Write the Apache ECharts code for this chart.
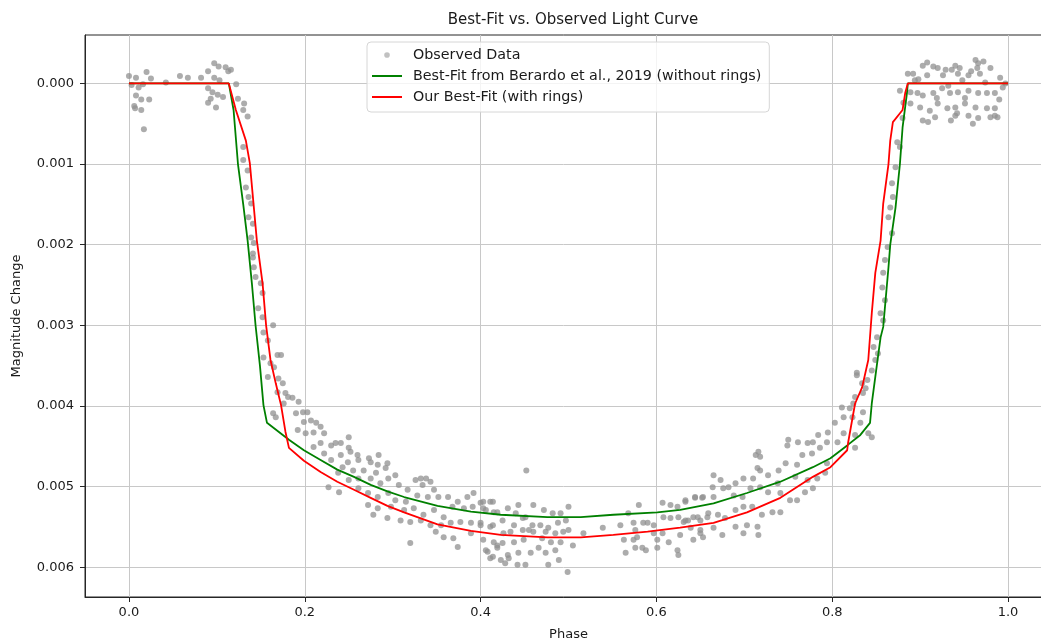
<!DOCTYPE html>
<html>
<head>
<meta charset="utf-8">
<title>Best-Fit vs. Observed Light Curve</title>
<script src="https://cdn.jsdelivr.net/npm/echarts@6/dist/echarts.min.js"></script>
<style>
  html, body { margin: 0; padding: 0; background: #fff; }
  #chart { width: 1041px; height: 639px; }
</style>
</head>
<body>
<div id="chart"></div>
<script>
// Light curve: observed points [phase, magnitude change]
const obsPre = [
  [0.000,-0.00009],[0.008,-0.00007],[0.020,-0.00014],[0.011,0.00005],[0.008,0.00015],[0.014,0.00020],
  [0.023,0.00020],[0.006,0.00028],[0.007,0.00031],[0.014,0.00033],[0.017,0.00057],[0.003,0.00002],
  [0.016,0.00001],[0.025,-0.00006],[0.042,-0.00001],[0.058,-0.00009],[0.067,-0.00007],[0.082,-0.00007],
  [0.090,-0.00015],[0.097,-0.00025],[0.102,-0.00021],[0.110,-0.00020],[0.116,-0.00017],[0.113,-0.00015],
  [0.097,-0.00007],[0.103,-0.00004],[0.090,0.00006],[0.095,0.00011],[0.101,0.00014],[0.093,0.00019],
  [0.090,0.00024],[0.099,0.00030],[0.107,0.00017],[0.122,0.00001],[0.124,0.00019],[0.131,0.00025],
  [0.130,0.00033],[0.135,0.00041]
];
const obsIngress = [
  [0.130,0.00079],[0.130,0.00095],[0.135,0.00108],[0.133,0.00129],[0.136,0.00141],[0.139,0.00149],
  [0.136,0.00166],[0.141,0.00174],[0.139,0.00191],[0.142,0.00198],[0.141,0.00211],[0.141,0.00216],
  [0.142,0.00228],[0.144,0.00240],[0.150,0.00248],[0.152,0.00260],[0.147,0.00279],[0.152,0.00290],
  [0.164,0.00300],[0.153,0.00309],[0.158,0.00319],[0.169,0.00337],[0.173,0.00337],[0.153,0.00340],
  [0.161,0.00347],[0.165,0.00352],[0.158,0.00364],[0.170,0.00366],[0.175,0.00372],[0.169,0.00383],
  [0.178,0.00384],[0.176,0.00397],[0.164,0.00409],[0.167,0.00414]
];
const obsBottomLeft = [
  [0.181,0.00389],[0.186,0.00390],[0.193,0.00395],[0.198,0.00408],[0.203,0.00408],[0.190,0.00409],
  [0.199,0.00420],[0.207,0.00418],[0.213,0.00421],[0.192,0.00430],[0.201,0.00434],[0.210,0.00433],
  [0.218,0.00426],[0.222,0.00434],[0.250,0.00439],[0.230,0.00449],[0.235,0.00446],[0.241,0.00446],
  [0.218,0.00446],[0.210,0.00451],[0.250,0.00452],[0.252,0.00457],[0.222,0.00459],[0.241,0.00461],
  [0.260,0.00461],[0.230,0.00467],[0.249,0.00470],[0.261,0.00467],[0.273,0.00465],[0.275,0.00470],
  [0.284,0.00461],[0.294,0.00471],[0.283,0.00473],[0.243,0.00476],[0.255,0.00480],[0.267,0.00480],
  [0.281,0.00483],[0.292,0.00477],[0.303,0.00486],[0.238,0.00483],[0.250,0.00492],[0.261,0.00490],
  [0.275,0.00490],[0.286,0.00496],[0.295,0.00490],[0.307,0.00498],[0.317,0.00504],[0.326,0.00492],
  [0.332,0.00490],[0.338,0.00490],[0.343,0.00494],[0.334,0.00498],[0.347,0.00504],[0.227,0.00501],
  [0.239,0.00507],[0.261,0.00502],[0.272,0.00508],[0.283,0.00513],[0.295,0.00508],[0.303,0.00517],
  [0.315,0.00519],[0.328,0.00511],[0.340,0.00513],[0.352,0.00513],[0.363,0.00513],[0.374,0.00519],
  [0.385,0.00513],[0.392,0.00508],[0.400,0.00520],[0.411,0.00519],[0.272,0.00523],[0.283,0.00527],
  [0.298,0.00525],[0.313,0.00529],[0.324,0.00527],[0.335,0.00535],[0.347,0.00529],[0.358,0.00538],
  [0.368,0.00525],[0.381,0.00527],[0.391,0.00525],[0.403,0.00527],[0.415,0.00532],[0.278,0.00535],
  [0.294,0.00539],[0.309,0.00542],[0.320,0.00544],[0.332,0.00542],[0.343,0.00548],[0.355,0.00548],
  [0.366,0.00545],[0.377,0.00544],[0.389,0.00545],[0.400,0.00548],[0.411,0.00550],[0.349,0.00556],
  [0.358,0.00563],[0.369,0.00564],[0.374,0.00575],[0.320,0.00570],[0.389,0.00558],[0.403,0.00566],
  [0.408,0.00581],[0.414,0.00587],[0.419,0.00573]
];
const obsBottomMid = [
  [0.403,0.00519],[0.414,0.00519],[0.406,0.00529],[0.419,0.00532],[0.431,0.00527],[0.443,0.00523],
  [0.460,0.00523],[0.472,0.00529],[0.482,0.00533],[0.491,0.00533],[0.500,0.00525],[0.440,0.00533],
  [0.451,0.00538],[0.400,0.00545],[0.414,0.00548],[0.425,0.00542],[0.438,0.00548],[0.448,0.00539],
  [0.459,0.00548],[0.468,0.00548],[0.477,0.00551],[0.488,0.00545],[0.497,0.00542],[0.426,0.00558],
  [0.434,0.00556],[0.448,0.00554],[0.455,0.00554],[0.460,0.00556],[0.474,0.00556],[0.485,0.00558],
  [0.494,0.00556],[0.500,0.00554],[0.415,0.00569],[0.425,0.00570],[0.438,0.00569],[0.449,0.00566],
  [0.470,0.00564],[0.480,0.00569],[0.491,0.00569],[0.505,0.00573],[0.406,0.00579],[0.419,0.00576],
  [0.431,0.00585],[0.443,0.00582],[0.457,0.00582],[0.466,0.00576],[0.474,0.00582],[0.485,0.00579],
  [0.411,0.00589],[0.423,0.00591],[0.432,0.00589],[0.442,0.00597],[0.451,0.00597],[0.477,0.00597],
  [0.489,0.00591],[0.428,0.00595],[0.499,0.00606],[0.452,0.00480],[0.517,0.00558],[0.539,0.00551],
  [0.559,0.00548],[0.568,0.00533],[0.580,0.00523],[0.574,0.00545],[0.576,0.00554],[0.578,0.00563],
  [0.563,0.00566],[0.574,0.00566],[0.576,0.00576],[0.584,0.00576],[0.588,0.00579],[0.565,0.00582],
  [0.585,0.00545],[0.590,0.00545],[0.597,0.00548],[0.597,0.00558],[0.601,0.00566],[0.601,0.00576],
  [0.607,0.00520],[0.616,0.00523],[0.608,0.00538],[0.616,0.00539],[0.624,0.00525],[0.633,0.00519],
  [0.644,0.00514],[0.652,0.00514],[0.625,0.00538],[0.631,0.00544],[0.636,0.00542],[0.642,0.00538],
  [0.650,0.00542],[0.659,0.00533],[0.607,0.00558],[0.614,0.00569],[0.624,0.00579],[0.625,0.00585],
  [0.627,0.00560],[0.642,0.00566],[0.650,0.00558],[0.653,0.00563]
];
const obsBottomRight = [
  [0.633,0.00517],[0.644,0.00513],[0.653,0.00513],[0.665,0.00513],[0.665,0.00486],[0.673,0.00492],
  [0.664,0.00501],[0.676,0.00502],[0.682,0.00501],[0.690,0.00496],[0.699,0.00490],[0.710,0.00490],
  [0.688,0.00511],[0.698,0.00513],[0.707,0.00502],[0.718,0.00501],[0.727,0.00507],[0.738,0.00496],
  [0.716,0.00457],[0.718,0.00463],[0.713,0.00461],[0.715,0.00477],[0.718,0.00480],[0.727,0.00486],
  [0.739,0.00480],[0.747,0.00471],[0.760,0.00473],[0.750,0.00442],[0.761,0.00445],[0.749,0.00449],
  [0.772,0.00446],[0.778,0.00445],[0.784,0.00436],[0.795,0.00433],[0.803,0.00421],[0.794,0.00445],
  [0.806,0.00445],[0.766,0.00461],[0.777,0.00459],[0.786,0.00452],[0.758,0.00488],[0.772,0.00492],
  [0.783,0.00490],[0.792,0.00483],[0.741,0.00508],[0.752,0.00517],[0.760,0.00517],[0.769,0.00507],
  [0.778,0.00502],[0.794,0.00471],[0.811,0.00402],[0.820,0.00403],[0.813,0.00414],[0.823,0.00414],
  [0.832,0.00421],[0.826,0.00436],[0.826,0.00452],[0.841,0.00434],[0.845,0.00439],[0.835,0.00408],
  [0.828,0.00362],[0.838,0.00378],[0.824,0.00397],[0.813,0.00434],[0.647,0.00538],[0.658,0.00538],
  [0.670,0.00535],[0.678,0.00539],[0.690,0.00529],[0.699,0.00525],[0.709,0.00525],[0.720,0.00535],
  [0.732,0.00532],[0.741,0.00532],[0.633,0.00542],[0.639,0.00551],[0.650,0.00554],[0.665,0.00551],
  [0.675,0.00560],[0.690,0.00550],[0.703,0.00548],[0.715,0.00550],[0.716,0.00560],[0.699,0.00558]
];
const obsEgress = [
  [0.877,0.00009],[0.881,0.00024],[0.880,0.00043],[0.874,0.00073],[0.877,0.00079],[0.872,0.00104],
  [0.868,0.00124],[0.869,0.00141],[0.866,0.00154],[0.864,0.00166],[0.868,0.00186],[0.863,0.00203],
  [0.860,0.00219],[0.858,0.00235],[0.857,0.00253],[0.860,0.00269],[0.855,0.00285],[0.858,0.00294],
  [0.851,0.00315],[0.847,0.00327],[0.852,0.00335],[0.849,0.00343],[0.845,0.00356],[0.840,0.00368],
  [0.828,0.00359],[0.834,0.00372],[0.835,0.00384],[0.826,0.00389]
];
const obsPost = [
  [0.886,-0.00012],[0.892,-0.00012],[0.903,-0.00022],[0.908,-0.00026],[0.915,-0.00021],[0.920,-0.00019],
  [0.926,-0.00010],[0.936,-0.00017],[0.940,-0.00022],[0.945,-0.00019],[0.943,-0.00012],[0.955,-0.00010],
  [0.963,-0.00029],[0.966,-0.00025],[0.965,-0.00019],[0.968,-0.00012],[0.908,-0.00010],[0.925,0.00006],
  [0.889,0.00011],[0.897,0.00012],[0.903,0.00015],[0.915,0.00012],[0.934,0.00012],[0.943,0.00011],
  [0.955,0.00009],[0.966,0.00012],[0.976,0.00012],[0.985,0.00012],[0.889,0.00025],[0.900,0.00030],
  [0.911,0.00034],[0.920,0.00025],[0.931,0.00031],[0.940,0.00030],[0.942,0.00037],[0.951,0.00025],
  [0.963,0.00030],[0.976,0.00031],[0.985,0.00031],[0.985,0.00040],[0.903,0.00046],[0.909,0.00048],
  [0.917,0.00042],[0.940,0.00040],[0.955,0.00040],[0.966,0.00043],[0.980,0.00042],[0.988,0.00042],
  [0.980,-0.00019],[0.991,-0.00007],[0.997,0.00000],[0.894,-0.00004],[0.932,0.00003],[0.974,-0.00001],
  [0.948,-0.00004],[0.972,-0.00027],[0.958,-0.00015],[0.929,-0.00017],[0.898,-0.00005],[0.951,0.00018],
  [0.919,0.00018],[0.990,0.00020],[0.960,0.00050],[0.935,0.00046],[0.994,0.00005]
];

// Best-fit from Berardo et al., 2019 (without rings)
const greenPhase = [0, 0.1136, 0.119, 0.124, 0.130, 0.135, 0.140, 0.144, 0.149, 0.153, 0.157,
  0.182, 0.199, 0.218, 0.237, 0.256, 0.275, 0.294, 0.313, 0.351, 0.389, 0.423, 0.476, 0.514, 0.551,
  0.601, 0.627, 0.665, 0.703, 0.741, 0.778, 0.798, 0.817, 0.832, 0.843, 0.845, 0.849, 0.855, 0.858,
  0.864, 0.866, 0.872, 0.877, 0.880, 0.885, 0.886, 1.0];
const greenMag = [0, 0, 0.00033, 0.00100, 0.00150, 0.00195, 0.00250, 0.00300, 0.00350, 0.00399, 0.00421,
  0.00442, 0.00455, 0.00467, 0.00479, 0.00488, 0.00498, 0.00506, 0.00513, 0.00524, 0.00531, 0.00535, 0.00538, 0.00538, 0.00535,
  0.00532, 0.00529, 0.00521, 0.00508, 0.00494, 0.00476, 0.00465, 0.00449, 0.00436, 0.00421, 0.00397, 0.00364, 0.00315, 0.00302,
  0.00228, 0.00200, 0.00154, 0.00100, 0.00055, 0.00012, 0, 0];

// Our best-fit (with rings)
const redPhase = [0, 0.1136, 0.1216, 0.133, 0.1375, 0.1455, 0.147, 0.152, 0.156, 0.161, 0.167, 0.173,
  0.178, 0.182, 0.199, 0.218, 0.237, 0.256, 0.275, 0.294, 0.313, 0.351, 0.389, 0.423, 0.476, 0.514, 0.551,
  0.590, 0.627, 0.665, 0.703, 0.741, 0.778, 0.798, 0.817, 0.818, 0.826, 0.834, 0.841, 0.845, 0.849,
  0.855, 0.858, 0.864, 0.866, 0.869, 0.880, 0.883, 0.886, 1.0];
const redMag = [0, 0, 0.00033, 0.00071, 0.00099, 0.00195, 0.00207, 0.00248, 0.00300, 0.00343, 0.00372, 0.00399,
  0.00432, 0.00452, 0.00468, 0.00482, 0.00494, 0.00504, 0.00514, 0.00524, 0.00532, 0.00547, 0.00555, 0.00560, 0.00563, 0.00563, 0.00560,
  0.00556, 0.00551, 0.00545, 0.00532, 0.00514, 0.00488, 0.00476, 0.00455, 0.00446, 0.00397, 0.00377, 0.00343, 0.00285, 0.00235,
  0.00195, 0.00149, 0.00100, 0.00071, 0.00048, 0.00033, 0.00012, 0, 0];

// Tick labels
const xTicks = [0.0, 0.2, 0.4, 0.6, 0.8, 1.0];
const yTicks = [0.000, 0.001, 0.002, 0.003, 0.004, 0.005, 0.006];

const seriesNames = [
  "Observed Data",
  "Best-Fit from Berardo et al., 2019 (without rings)",
  "Our Best-Fit (with rings)",
];

const observed = [].concat(obsPre, obsIngress, obsBottomLeft, obsBottomMid, obsBottomRight, obsEgress, obsPost);
const greenData = greenPhase.map((p, i) => [p, greenMag[i]]);
const redData = redPhase.map((p, i) => [p, redMag[i]]);

const FONT = "DejaVu Sans";
const TEXT = "#1a1a1a";
const SPINE = "#262626";
const GREEN = "#008000";
const RED = "#ff0000";
const DOT = "#909090";

// legend icons drawn as small svgs so they keep their size (30x14 box)
function svgIcon(body) {
  return "image://data:image/svg+xml;utf8," + encodeURIComponent(
    "<svg xmlns='http://www.w3.org/2000/svg' width='30' height='14'>" + body + "</svg>"
  );
}
const dotIcon = svgIcon("<circle cx='15' cy='7' r='2.8' fill='" + DOT + "' fill-opacity='0.75'/>");
const greenIcon = svgIcon("<rect x='0' y='6' width='30' height='2' fill='" + GREEN + "'/>");
const redIcon = svgIcon("<rect x='0' y='6' width='30' height='2' fill='" + RED + "'/>");

const chart = echarts.init(document.getElementById("chart"));

const option = {
  animation: false,
  backgroundColor: "#fff",
  textStyle: { fontFamily: FONT },
  title: {
    text: "Best-Fit vs. Observed Light Curve",
    left: 568,
    top: 8,
    textAlign: "center",
    textStyle: { fontFamily: FONT, fontSize: 15, fontWeight: "normal", color: TEXT },
  },
  legend: {
    orient: "vertical",
    left: 367,
    top: 42,
    itemWidth: 30,
    itemHeight: 14,
    itemGap: 7,
    padding: [6, 8, 8, 5],
    backgroundColor: "rgba(255,255,255,0.8)",
    borderColor: "#d6d6d6",
    borderWidth: 1,
    borderRadius: 4,
    selectedMode: false,
    textStyle: { fontFamily: FONT, fontSize: 14.3, color: TEXT, padding: [0, 0, 0, 6] },
    data: [
      { name: seriesNames[0], icon: dotIcon },
      { name: seriesNames[1], icon: greenIcon },
      { name: seriesNames[2], icon: redIcon },
    ],
  },
  grid: {
    left: 85,
    top: 35,
    right: -11,
    bottom: 42,
    show: true,
    borderColor: SPINE,
    borderWidth: 1,
    containLabel: false,
    outerBoundsMode: "none",
  },
  xAxis: {
    type: "value",
    min: -0.05,
    max: 1.05,
    name: "Phase",
    nameLocation: "middle",
    nameGap: 31,
    nameTextStyle: { fontFamily: FONT, fontSize: 13, color: TEXT },
    axisLine: { show: true, onZero: false, lineStyle: { color: SPINE, width: 1 } },
    axisTick: { show: true, length: 5, customValues: xTicks, lineStyle: { color: SPINE } },
    axisLabel: {
      customValues: xTicks,
      margin: 9,
      fontFamily: FONT,
      fontSize: 13,
      color: TEXT,
      formatter: (v) => v.toFixed(1),
    },
    splitLine: { show: true, lineStyle: { color: "#c8c8c8", width: 1 } },
  },
  yAxis: {
    type: "value",
    inverse: true,
    min: -0.0006,
    max: 0.00637,
    name: "Magnitude Change",
    nameLocation: "middle",
    nameGap: 62,
    nameTextStyle: { fontFamily: FONT, fontSize: 13, color: TEXT },
    axisLine: { show: true, onZero: false, lineStyle: { color: SPINE, width: 1 } },
    axisTick: { show: true, length: 5, customValues: yTicks, lineStyle: { color: SPINE } },
    axisLabel: {
      customValues: yTicks,
      margin: 11,
      fontFamily: FONT,
      fontSize: 13,
      color: TEXT,
      formatter: (v) => v.toFixed(3),
    },
    splitLine: { show: true, lineStyle: { color: "#c8c8c8", width: 1 } },
  },
  series: [
    {
      name: seriesNames[0],
      type: "scatter",
      data: observed,
      symbolSize: 6,
      itemStyle: { color: DOT, opacity: 0.75 },
      z: 2,
    },
    {
      name: seriesNames[1],
      type: "line",
      data: greenData,
      symbol: "none",
      lineStyle: { color: GREEN, width: 1.8 },
      itemStyle: { color: GREEN },
      z: 3,
    },
    {
      name: seriesNames[2],
      type: "line",
      data: redData,
      symbol: "none",
      lineStyle: { color: RED, width: 1.8 },
      itemStyle: { color: RED },
      z: 4,
    },
  ],
};

chart.setOption(option);
</script>
</body>
</html>
